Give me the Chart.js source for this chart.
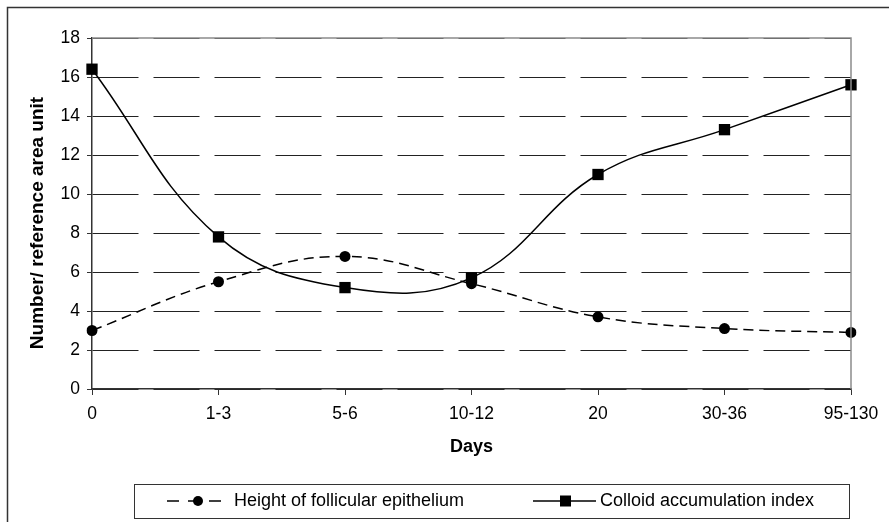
<!DOCTYPE html>
<html>
<head>
<meta charset="utf-8">
<script src="https://cdn.jsdelivr.net/npm/chart.js@4"></script>
<style>
html,body{margin:0;padding:0;background:#fff;}
#wrap{width:889px;height:522px;position:relative;}
</style>
</head>
<body>
<div id="wrap"><canvas id="c" width="889" height="522"></canvas></div>
<script>
const categories = ["0", "1-3", "5-6", "10-12", "20", "30-36", "95-130"];
const heightEpithelium = [3.0, 5.5, 6.8, 5.4, 3.7, 3.1, 2.9];
const colloidIndex = [16.4, 7.8, 5.2, 5.7, 11.0, 13.3, 15.6];
const seriesNames = ["Height of follicular epithelium", "Colloid accumulation index"];
const yTitle = "Number/ reference area unit";
const xTitle = "Days";

const FONT = "'Liberation Sans', Arial, sans-serif";

const framePlugin = {
  id: 'frame',
  beforeDraw(chart) {
    const ctx = chart.ctx;
    ctx.save();
    ctx.fillStyle = '#fff';
    ctx.fillRect(0, 0, chart.width, chart.height);
    ctx.restore();
  },
  afterDraw(chart) {
    const ctx = chart.ctx;
    const a = chart.chartArea;
    ctx.save();
    // outer frame
    ctx.strokeStyle = '#333';
    ctx.lineWidth = 1.5;
    ctx.strokeRect(7.5, 7.5, 900, 530);
    // plot area top/right border
    ctx.strokeStyle = '#8c8c8c';
    ctx.lineWidth = 1.5;
    ctx.beginPath();
    ctx.moveTo(a.left, a.top);
    ctx.lineTo(a.right, a.top);
    ctx.lineTo(a.right, a.bottom);
    ctx.stroke();
    // y axis title
    ctx.save();
    ctx.translate(38, 223);
    ctx.rotate(-Math.PI / 2);
    ctx.font = 'bold 19px ' + FONT;
    ctx.fillStyle = '#000';
    ctx.textAlign = 'center';
    ctx.textBaseline = 'middle';
    ctx.fillText(yTitle, 0, 0);
    ctx.restore();
    // legend box
    ctx.strokeStyle = '#333';
    ctx.lineWidth = 1;
    ctx.strokeRect(134.5, 484.5, 715, 34);
    const ly = 501;
    // entry 1
    ctx.strokeStyle = '#000';
    ctx.lineWidth = 1.5;
    ctx.setLineDash([12, 9]);
    ctx.beginPath();
    ctx.moveTo(167, ly); ctx.lineTo(224, ly);
    ctx.stroke();
    ctx.setLineDash([]);
    ctx.fillStyle = '#000';
    ctx.beginPath();
    ctx.arc(198, ly, 5, 0, Math.PI * 2);
    ctx.fill();
    // entry 2
    ctx.beginPath();
    ctx.moveTo(533, ly); ctx.lineTo(596, ly);
    ctx.stroke();
    ctx.fillRect(560, ly - 5.5, 11, 11);
    ctx.font = '18px ' + FONT;
    ctx.textBaseline = 'middle';
    ctx.textAlign = 'left';
    ctx.fillText(chart.data.datasets[0].label, 234, ly);
    ctx.fillText(chart.data.datasets[1].label, 600, ly);
    ctx.restore();
  }
};

new Chart(document.getElementById('c'), {
  type: 'line',
  data: {
    labels: categories,
    datasets: [
      {
        label: seriesNames[0],
        data: heightEpithelium,
        borderColor: '#000',
        backgroundColor: '#000',
        borderWidth: 1.5,
        borderDash: [10, 6],
        pointStyle: 'circle',
        pointRadius: 5.5,
        pointBorderWidth: 0,
        tension: 0.4
      },
      {
        label: seriesNames[1],
        data: colloidIndex,
        borderColor: '#000',
        backgroundColor: '#000',
        borderWidth: 1.5,
        pointStyle: 'rect',
        pointRadius: 8,
        pointBorderWidth: 0,
        tension: 0.4
      }
    ]
  },
  options: {
    responsive: false,
    animation: false,
    devicePixelRatio: 1,
    layout: { padding: { left: 0, top: 38, right: 38, bottom: 0 } },
    plugins: {
      legend: { display: false },
      tooltip: { enabled: false }
    },
    scales: {
      x: {
        type: 'category',
        offset: false,
        afterFit(s) { s.height = 133; },
        grid: {
          display: true,
          drawOnChartArea: false,
          drawTicks: true,
          tickLength: 6,
          color: '#333',
          tickColor: '#333'
        },
        border: { display: true, color: '#333', width: 1.5 },
        ticks: {
          color: '#000',
          font: { family: FONT, size: 17.5 },
          padding: 9,
          maxRotation: 0,
          autoSkip: false
        },
        title: {
          display: true,
          text: xTitle,
          color: '#000',
          font: { family: FONT, size: 18, weight: 'bold' },
          padding: { top: 0, bottom: 64 }
        }
      },
      y: {
        type: 'linear',
        min: 0,
        max: 18,
        afterFit(s) { s.width = 92; },
        grid: {
          color: '#222',
          lineWidth: 1,
          tickBorderDash: [],
          drawTicks: true,
          tickLength: 5,
          tickColor: '#333'
        },
        border: { display: true, color: '#333', width: 1.5, dash: [46, 15] },
        ticks: {
          stepSize: 2,
          color: '#000',
          font: { family: FONT, size: 17.5 },
          padding: 7
        },
        title: { display: false }
      }
    }
  },
  plugins: [framePlugin]
});
</script>
</body>
</html>
